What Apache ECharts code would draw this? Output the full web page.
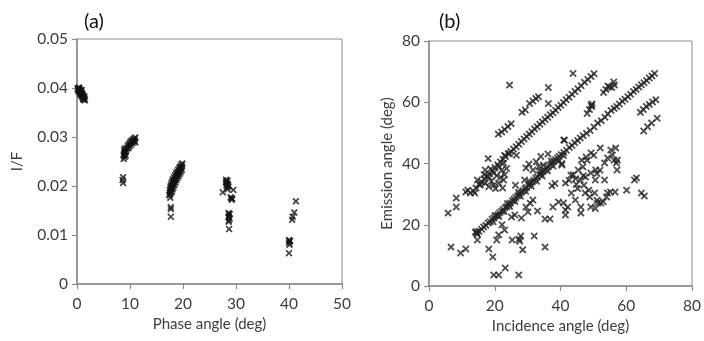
<!DOCTYPE html>
<html><head><meta charset="utf-8">
<script src="https://cdn.jsdelivr.net/npm/echarts@6/dist/echarts.min.js"></script>
<style>html,body{margin:0;padding:0;background:#fff}#c{width:704px;height:341px}</style>
</head><body><div id="c"></div>
<script>
// ---- Panel (a): phase angle vs I/F ----
const phaseTicks = [0, 10, 20, 30, 40, 50];
const ifTicks = [0, 0.01, 0.02, 0.03, 0.04, 0.05];
const phaseIF_group0 = [[0.1,0.0399],[0.2,0.0396],[0.3,0.0400],[0.3,0.0394],[0.4,0.0398],[0.5,0.0392],[0.5,0.0397],[0.6,0.0389],[0.6,0.0395],[0.7,0.0391],[0.7,0.0386],[0.8,0.0393],[0.8,0.0388],[0.9,0.0384],[0.9,0.0390],[1.0,0.0387],[1.0,0.0382],[1.1,0.0385],[1.1,0.0379],[1.2,0.0383],[1.2,0.0377],[1.3,0.0380],[1.3,0.0376],[1.4,0.0378],[1.4,0.0382],[0.4,0.0401],[0.9,0.0396],[1.5,0.0375]];
const phaseIF_group10 = [[8.8,0.0255],[8.8,0.0262],[8.9,0.0268],[8.9,0.0274],[9.0,0.0259],[9.0,0.0265],[9.0,0.0271],[9.1,0.0277],[9.2,0.0262],[9.2,0.0269],[9.3,0.0274],[9.5,0.0278],[9.6,0.0282],[9.7,0.0277],[9.8,0.0285],[9.9,0.0281],[10.0,0.0287],[10.2,0.0284],[10.3,0.0290],[10.4,0.0293],[10.5,0.0288],[10.6,0.0295],[10.7,0.0291],[10.8,0.0297],[10.9,0.0293],[11.0,0.0299],[11.0,0.0289],[10.1,0.0291],[8.7,0.0218],[8.6,0.0212],[8.7,0.0206]];
const phaseIF_group20 = [[17.4,0.0181],[17.5,0.0186],[17.5,0.0192],[17.6,0.0197],[17.6,0.0183],[17.7,0.0189],[17.7,0.0201],[17.8,0.0194],[17.8,0.0206],[17.9,0.0188],[17.9,0.0199],[18.0,0.0210],[18.0,0.0193],[18.1,0.0203],[18.1,0.0214],[18.2,0.0197],[18.2,0.0208],[18.3,0.0218],[18.4,0.0202],[18.4,0.0212],[18.5,0.0222],[18.6,0.0207],[18.6,0.0216],[18.7,0.0226],[18.8,0.0212],[18.8,0.0221],[18.9,0.0229],[19.0,0.0217],[19.0,0.0225],[19.1,0.0233],[19.2,0.0221],[19.2,0.0229],[19.3,0.0237],[19.4,0.0225],[19.4,0.0233],[19.5,0.0240],[19.6,0.0229],[19.6,0.0237],[19.7,0.0244],[19.8,0.0233],[19.8,0.0240],[19.9,0.0246],[17.6,0.0176],[17.7,0.0157],[17.7,0.0153],[17.7,0.0137]];
const phaseIF_group30 = [[28.1,0.0213],[28.2,0.0209],[28.3,0.0205],[28.2,0.0201],[28.4,0.0211],[28.3,0.0197],[28.5,0.0203],[28.4,0.0193],[28.1,0.0207],[28.6,0.0199],[27.5,0.0187],[29.5,0.0192],[29.1,0.0175],[29.2,0.0172],[29.0,0.0177],[29.3,0.0174],[28.6,0.0145],[28.7,0.0141],[28.6,0.0137],[28.8,0.0134],[28.7,0.0130],[28.6,0.0127],[28.8,0.0143],[28.7,0.0112]];
const phaseIF_group40 = [[40.0,0.0090],[40.1,0.0087],[40.0,0.0084],[40.2,0.0088],[40.1,0.0080],[40.0,0.0063],[40.6,0.0131],[40.7,0.0137],[41.0,0.0146],[41.3,0.0169]];

// ---- Panel (b): incidence vs emission ----
const angleTicks = [0, 20, 40, 60, 80];
const incEm_mainLine = [[14.5,17.2],[15.2,17.9],[16.0,18.5],[16.6,19.3],[17.3,19.8],[18.0,20.6],[18.6,21.0],[19.2,21.8],[19.8,22.2],[20.4,22.9],[21.0,23.3],[21.5,23.9],[22.1,24.4],[22.6,25.0],[23.2,25.6],[23.7,26.0],[24.3,26.7],[24.8,27.1],[25.4,27.8],[25.9,28.3],[26.4,28.9],[27.0,29.5],[27.5,30.0],[28.1,30.6],[28.6,31.1],[29.2,31.8],[29.7,32.2],[30.3,32.9],[30.8,33.4],[31.4,34.0],[31.9,34.5],[32.5,35.2],[33.0,35.6],[33.6,36.3],[34.1,36.7],[34.7,37.4],[35.2,37.9],[35.8,38.5],[36.3,39.0],[36.9,39.6],[37.4,40.1],[38.0,40.7],[38.5,41.2],[39.1,41.8],[39.6,42.3],[40.2,42.9],[41.0,43.6],[41.8,44.3],[42.7,45.2],[43.5,45.9],[44.3,46.8],[45.2,47.5],[46.0,48.3],[46.9,49.1],[47.9,49.9],[49.0,50.8],[50.2,51.9],[51.3,53.2],[52.4,54.0],[53.5,55.1],[54.4,56.2],[55.4,57.3],[56.3,58.0],[57.1,58.6],[57.9,59.4],[58.8,60.3],[59.6,61.0],[60.5,61.8],[61.3,62.6],[62.2,63.5],[63.0,64.2],[63.8,65.0],[64.6,65.7],[65.4,66.4],[66.2,67.1],[67.0,67.9],[67.8,68.6],[68.6,69.4],[19.5,21.0],[21.2,22.7],[22.8,24.3],[24.5,26.0],[26.1,27.6],[27.8,29.3],[29.4,30.9],[31.1,32.6],[32.7,34.2],[34.4,35.9],[36.0,37.6],[37.7,39.2],[39.3,40.9],[40.9,42.6],[20.1,22.9],[23.9,26.9],[27.2,30.6],[30.6,34.0],[33.9,37.4],[37.2,40.8],[14.5,17.7],[14.7,16.9]];
const incEm_upperLine = [[13.5,31.0],[14.3,32.0],[15.2,33.2],[16.0,34.0],[16.8,35.0],[17.6,35.8],[18.4,36.6],[19.3,37.6],[20.1,38.7],[20.9,39.6],[21.7,40.6],[22.5,41.4],[23.3,42.3],[24.1,43.2],[24.9,43.9],[25.7,44.7],[26.5,45.5],[27.3,46.3],[28.1,47.2],[28.9,48.0],[29.7,48.8],[30.5,49.6],[31.3,50.4],[32.1,51.3],[32.9,52.0],[33.7,52.8],[34.5,53.6],[35.3,54.4],[36.1,55.1],[36.9,55.9],[37.7,56.6],[38.5,57.4],[39.3,58.3],[40.1,59.0],[40.9,59.9],[41.7,60.8],[42.6,61.6],[43.5,62.6],[44.4,63.5],[45.3,64.4],[46.3,65.4],[47.3,66.5],[48.3,67.4],[49.3,68.4],[50.2,69.3],[21.1,49.6],[22.1,50.3],[23.0,51.1],[24.0,52.1],[25.0,53.0],[28.3,56.7],[29.3,57.5],[30.6,59.6],[31.6,60.4],[32.5,61.2],[33.3,61.8]];
const incEm_scatter = [[24.5,65.6],[36.3,64.8],[36.3,59.6],[43.8,69.4],[41.0,47.7],[48.1,56.3],[48.8,57.6],[49.3,59.0],[49.6,59.4],[49.5,58.6],[53.1,63.2],[53.8,64.2],[54.4,65.3],[54.9,65.0],[56.2,66.6],[56.4,65.6],[55.6,64.8],[64.3,56.7],[65.2,57.6],[66.1,58.6],[67.0,59.3],[68.0,60.1],[69.0,60.8],[65.3,50.6],[66.5,52.0],[67.7,53.2],[69.4,54.8],
[5.8,23.8],[8.3,28.7],[8.3,25.8],[11.2,30.7],[12.6,30.4],[6.7,12.7],[9.6,10.8],[11.2,12.1],[14.1,17.6],[14.7,15.0],[18.2,12.1],[19.4,9.5],[20.6,15.0],[19.7,3.6],[21.2,3.6],[23.2,5.9],[27.3,3.6],[25.3,15.0],[27.4,15.3],[27.9,16.3],[27.6,14.6],[28.5,11.8],[32.0,16.3],[35.3,12.7],[26.3,32.9],[29.1,34.6],[37.4,32.7],[35.3,21.9],[36.8,21.9],[37.7,25.8],[33.0,24.5],[30.1,24.2],[29.5,25.8],[31.6,28.1],[30.8,27.0],[28.1,22.2],[26.1,23.2],[23.0,18.3],[21.2,16.7],[25.1,22.5],[22.2,20.0],
[14.7,34.6],[15.6,33.0],[17.1,33.6],[18.2,32.4],[19.7,33.0],[21.2,33.6],[22.7,34.6],[23.0,36.3],[22.1,37.9],[22.7,40.2],[21.2,38.9],[19.7,36.9],[18.2,35.6],[16.8,36.3],[17.1,37.9],[11.8,31.3],[13.9,30.4],[18.0,41.6],[23.0,42.7],[24.5,43.3],[26.6,42.7],[20.2,31.8],[19.0,34.2],[22.4,32.0],[21.8,35.5],[20.6,36.0],[18.8,38.2],[23.6,38.4],
[29.5,38.5],[31.6,37.9],[33.4,38.9],[34.8,39.5],[30.4,39.8],[32.6,40.6],[36.2,43.1],[34.0,42.3],[38.3,33.5],[40.4,40.0],[41.2,47.6],
[40.4,39.5],[43.9,36.3],[45.4,37.9],[46.8,38.9],[49.2,36.9],[50.7,37.9],[53.4,40.2],[56.3,41.1],[57.2,37.9],[53.4,34.6],[41.5,33.6],[43.3,30.4],[44.5,28.1],[47.5,30.4],[48.9,29.1],[50.4,30.4],[52.2,27.1],[51.3,27.1],[49.2,25.8],[54.3,30.4],[55.2,30.7],[56.6,30.7],[60.1,31.3],[62.5,34.6],[63.1,35.3],[64.6,30.4],[65.5,29.4],[40.9,27.1],[41.5,24.8],[41.5,23.2],[46.2,25.8],[46.2,23.8],[39.4,27.4],
[52.1,45.1],[49.3,43.4],[47.8,42.1],[46.4,41.1],[55.3,44.4],[56.8,45.1],[55.8,42.8],[54.3,41.8],[57.3,41.1],[57.0,40.2],[43.2,36.2],[44.6,35.0],[46.0,34.6],[47.1,32.9],[45.2,31.8],[48.6,31.3],[51.1,28.0],[53.0,27.5],[54.0,29.1],[50.6,25.3],[42.2,25.8],[50.1,42.7],[52.0,37.8],[51.1,36.7],[50.6,34.6],[48.1,41.1],[42.6,34.5],[46.9,36.0],[44.8,33.2],[47.6,35.6]];

const X_SYMBOL = 'path://M0,1.7L1.7,0L5,3.3L8.3,0L10,1.7L6.7,5L10,8.3L8.3,10L5,6.7L1.7,10L0,8.3L3.3,5Z';
const FONT = 'Lato';
const axisGray = '#8a8a8a';
const textGray = '#3d3d3d';

function scatter(data, idx, size, color) {
  return {type:'scatter', xAxisIndex:idx, yAxisIndex:idx, data:data, symbol:X_SYMBOL, symbolSize:size,
    symbolKeepAspect:true, itemStyle:{color:color}, silent:true, animation:false};
}
function valAxis(gi, min, max, interval, name, nameGap, isY) {
  return {type:'value', gridIndex:gi, min:min, max:max, interval:interval,
    name:name, nameLocation:'middle', nameGap:nameGap,
    nameTextStyle:{fontFamily:FONT, fontSize:15, color:textGray},
    axisLine:{show:true, lineStyle:{color:axisGray, width:1.5}},
    axisTick:{show:true, inside:false, length:5, lineStyle:{color:axisGray, width:1.2}},
    axisLabel:{fontFamily:FONT, fontSize:15.5, color:textGray, margin: isY ? 9 : 12},
    splitLine:{show:false}};
}

const chart = echarts.init(document.getElementById('c'), null, {renderer:'canvas'});
chart.setOption({
  backgroundColor:'#fff',
  animation:false,
  title:[
    {text:'(a)', left:79, top:7, textStyle:{fontFamily:FONT, fontSize:20, fontWeight:'normal', color:'#111'}},
    {text:'(b)', left:434, top:7, textStyle:{fontFamily:FONT, fontSize:20, fontWeight:'normal', color:'#111'}}
  ],
  grid:[
    {left:77, top:39, width:265, height:245, show:true, borderColor:axisGray, borderWidth:1, backgroundColor:'transparent'},
    {left:429, top:41, width:271, height:245, show:true, borderColor:axisGray, borderWidth:1, backgroundColor:'transparent'}
  ],
  xAxis:[
    valAxis(0, 0, 50, 10, 'Phase angle (deg)', 32, false),
    valAxis(1, 0, 80, 20, 'Incidence angle (deg)', 32, false)
  ],
  yAxis:[
    Object.assign(valAxis(0, 0, 0.05, 0.01, 'I/F', 52, true), {axisLabel:{fontFamily:FONT, fontSize:15.5, color:textGray, margin:9, formatter:function(v){return v===0?'0':v.toFixed(2);}}}),
    valAxis(1, 0, 80, 20, 'Emission angle (deg)', 34, true)
  ],
  series:[
    scatter(phaseIF_group0, 0, 7, '#111'),
    scatter(phaseIF_group10, 0, 7, '#111'),
    scatter(phaseIF_group20, 0, 7, '#111'),
    scatter(phaseIF_group30, 0, 7, '#111'),
    scatter(phaseIF_group40, 0, 7, '#111'),
    scatter(incEm_mainLine, 1, 7.5, '#222'),
    scatter(incEm_upperLine, 1, 7.5, '#222'),
    scatter(incEm_scatter, 1, 7.5, '#222')
  ]
});
</script></body></html>
